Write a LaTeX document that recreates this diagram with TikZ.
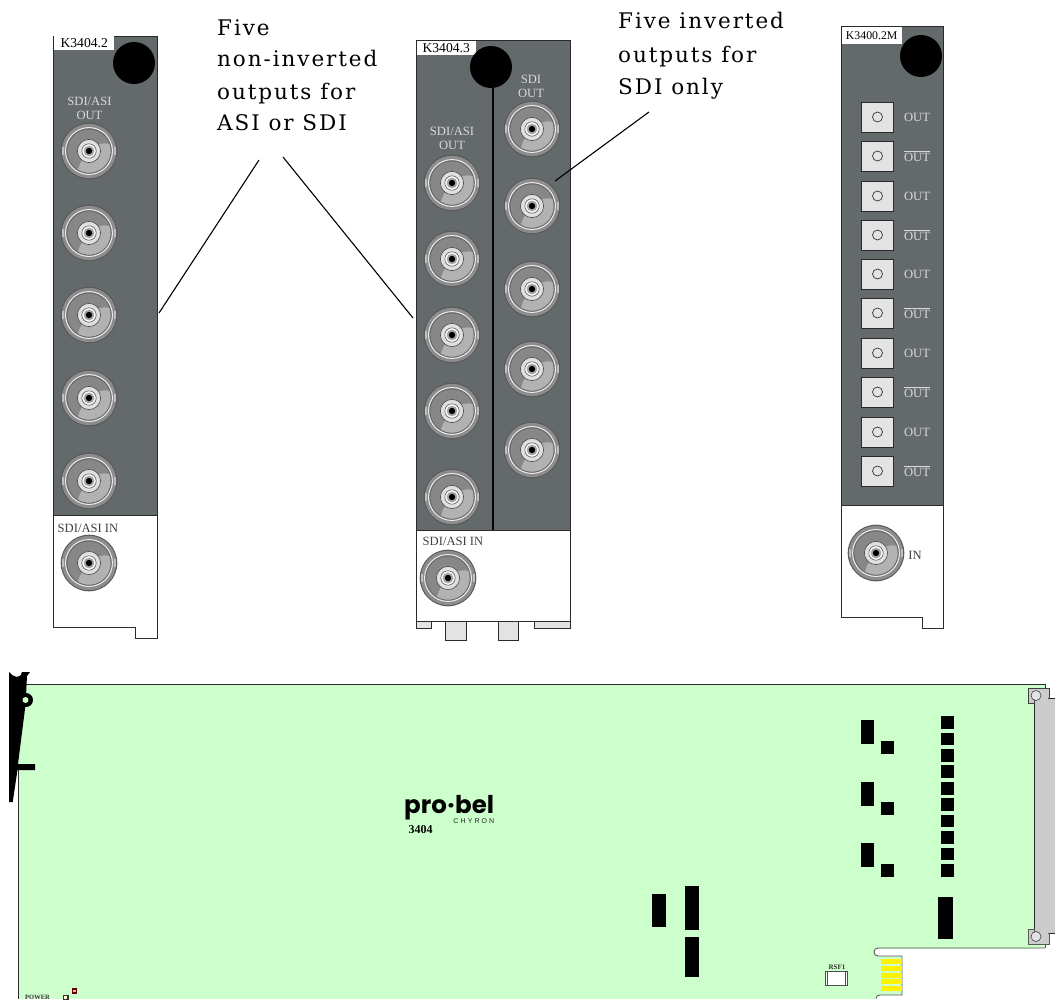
\documentclass[tikz,border=0pt]{standalone}
\usepackage{fontspec}
\setmainfont{Liberation Serif}
\newfontfamily\callfont[LetterSpace=9]{DejaVu Serif}
\newfontfamily\logofont{Poppins}
\newfontfamily\chyfont[LetterSpace=30]{Liberation Sans}
\definecolor{panelgrey}{HTML}{64696B}
\definecolor{boardgreen}{HTML}{CCFFCC}
\definecolor{edgedark}{HTML}{2A2A2A}
\definecolor{bracketgrey}{HTML}{CCCCCC}
\definecolor{tabgrey}{HTML}{E3E3E3}
\tikzset{
  panelface/.style={fill=panelgrey,draw=edgedark,line width=0.8pt},
  panelcard/.style={fill=white,draw=edgedark,line width=0.9pt},
  blackchip/.style={fill=black,draw=none},
  tabbox/.style={fill=tabgrey,draw=edgedark,line width=0.8pt},
  lab/.style={inner sep=0pt,font=\fontsize{12.6}{14}\selectfont,text=#1},
  lab/.default=black,
  tagbox/.style={fill=white,draw=none,inner sep=0pt,font=\fontsize{13.6}{14}\selectfont},
  call/.style={inner sep=0pt,anchor=base west,font=\callfont\fontsize{21.5}{24}\selectfont,text=black},
  leader/.style={draw=black,line width=1.1pt},
  bnc/.pic={
    \fill[color=black!65] (0,0) circle (28.3pt);
    \fill[color=black!45] (0,0) circle (27.2pt);
    \draw[color=white!92!black,line width=1.1pt] (0,0) circle (23.4pt);
    \fill[color=black!60] (0,0) circle (22.6pt);
    \fill[color=black!47] (0,0) circle (21.6pt);
    \fill[color=black!30] (-11,18.4) .. controls (-7,5) and (5,-11) .. (20.4,-7) arc (19:-121:21.6pt) -- cycle;
    \fill[color=white!75!black] (-27.4,-3.6) rectangle (-24.6,3.8);
    \fill[color=white!75!black] (24.6,-3.6) rectangle (27.4,3.8);
    \fill[color=white!88!black,draw=black!70,line width=0.6pt] (0,0) circle (11.6pt);
    \fill[color=white,draw=black!65,line width=0.6pt] (0,0) circle (7.2pt);
    \fill[color=black!35] (0,0) circle (5.4pt);
    \fill[color=black] (0,0) circle (3.2pt);
  },
  x=1pt,y=-1pt
}
\newcommand{\oline}{$\overline{\hbox{OUT}}$}
\begin{document}
\begin{tikzpicture}[x=1pt,y=-1pt]
\useasboundingbox (0,0) rectangle (1055,999);
\fill[white] (0,0) rectangle (1055,999);

% ---------- left panel
\draw[panelcard] (53,515) -- (53,627) -- (135,627) -- (135,638) -- (157,638) -- (157,515);
\draw[panelface] (53,36) rectangle (157,515);
\node[tagbox,minimum width=60pt,minimum height=14pt,anchor=north west] (tagA) at (54,36) {K3404.2};
\fill[black] (134,63) circle (21pt);
\foreach \yy in {151,233,315,398,481} \pic at (89,\yy) {bnc};
\node[lab=white!85!black,align=center] (sdiA) at (89.5,108.5) {SDI/ASI\\OUT};
\node[lab=black!75] (inA) at (88,528) {SDI/ASI IN};
\pic at (89,563) {bnc};

% ---------- middle panel
\draw[tabbox] (416,621) rectangle (431,628);
\draw[tabbox] (445,621) rectangle (466,640);
\draw[tabbox] (498,621) rectangle (518,640);
\draw[tabbox] (534,621) rectangle (570,628);
\draw[panelcard] (416,530) rectangle (570,621);
\draw[panelface] (416,40) rectangle (570,530);
\node[tagbox,minimum width=59pt,minimum height=14pt,anchor=north west] (tagB) at (416.5,40.5) {K3404.3};
\draw[black,line width=1.6pt] (493,70) -- (493,530);
\fill[black] (491,67) circle (21pt);
\foreach \yy in {183,259,335,411,497} \pic at (452,\yy) {bnc};
\foreach \yy in {129,206,289,369,450} \pic at (532,\yy) {bnc};
\node[lab=white!85!black,align=center] (sdiB) at (452,138) {SDI/ASI\\OUT};
\node[lab=white!85!black,align=center] (sdiC) at (531,86) {SDI\\OUT};
\node[lab=black!75] (inB) at (453,541) {SDI/ASI IN};
\pic at (448,578) {bnc};

% ---------- right panel
\draw[panelcard] (841,505) -- (841,617) -- (922,617) -- (922,628) -- (943,628) -- (943,505);
\draw[panelface] (841,26) rectangle (943,505);
\node[tagbox,minimum width=60pt,minimum height=17pt,anchor=north west,font=\fontsize{11.8}{14}\selectfont] (tagC) at (841.5,26.5) {K3400.2M};
\fill[black] (921,56) circle (21pt);
\foreach \yy/\txt [count=\i] in {117/OUT,156/\oline,196/OUT,235/\oline,274/OUT,313/\oline,353/OUT,392/\oline,432/OUT,471/\oline}{
  \draw[fill=tabgrey,draw=edgedark,line width=0.9pt] (861,\yy-15) rectangle (893.5,\yy+15);
  \draw[draw=black!80,line width=0.7pt] (877.5,\yy) circle (5pt);
  \node[lab=white!85!black] (out\i) at (917,\yy) {\txt};
}
\pic at (876,553) {bnc};
\node[lab=black!75] (inC) at (915,555) {IN};

% ---------- callouts
\node[call] (c1) at (217,35) {Five};
\node[call] (c2) at (217,66) {non-inverted};
\node[call] (c3) at (217,99) {outputs for};
\node[call] (c4) at (217,130) {ASI or SDI};
\node[call] (d1) at (618,28) {Five inverted};
\node[call] (d2) at (618,62) {outputs for};
\node[call] (d3) at (618,94) {SDI only};
\coordinate (l1a) at (259,160);
\coordinate (l1b) at (159,313);
\coordinate (l2a) at (283,157);
\coordinate (l2b) at (413,318);
\coordinate (l3a) at (649,112);
\coordinate (l3b) at (555,181);
\draw[leader] (l1a) -- (l1b);
\draw[leader] (l2a) -- (l2b);
\draw[leader] (l3a) -- (l3b);

% ---------- board
\fill[bracketgrey] (1034,698) rectangle (1055,933);
\draw[edgedark,line width=0.8pt] (1049,698) -- (1055,698);
\draw[edgedark,line width=0.8pt] (1049,933) -- (1055,933);
\fill[boardgreen] (18,684) rectangle (1034,999);
\fill[boardgreen] (1034,684) rectangle (1045,688);
\fill[boardgreen] (1034,944) rectangle (1045,948);
% white cut-out for the edge connector
\fill[white] (878,948.5) rectangle (1055,999);
\fill[boardgreen] (878,956) rectangle (902,995);
\fill[white] (878,948) arc (90:270:4pt) -- cycle;
\fill[white] (876,999) -- (876,998.5) .. controls (876,996) and (878,995) .. (880,995) -- (902,995) -- (902,999) -- cycle;
\draw[black!65,line width=0.9pt] (1045,948) -- (878,948) arc (90:270:4pt) -- (902,956) -- (902,995) -- (880,995) .. controls (878,995) and (876,996) .. (876,998.5);
\draw[edgedark,line width=0.8pt] (26,684) -- (1045,684) -- (1045,688);
\draw[edgedark,line width=0.9pt] (18,770) -- (18,999);
\draw[edgedark,line width=0.8pt] (1034,703) -- (1034,929);
\draw[black!65,line width=0.9pt] (1045,944) -- (1045,948);
% bracket lugs
\draw[fill=bracketgrey,draw=black!75,line width=0.8pt] (1028,703) -- (1028,688) -- (1049,688) -- (1049,698) -- (1034,698) -- (1034,703) -- cycle;
\fill[bracketgrey] (1034.5,697) rectangle (1048,704);
\draw[fill=bracketgrey,draw=black!65,line width=0.9pt] (1028,929) -- (1034,929) -- (1034,933) -- (1049,933) -- (1049,944) -- (1028,944) -- cycle;
\fill[bracketgrey] (1034.5,928) rectangle (1048,934);
\draw[fill=tabgrey,draw=black!75,line width=0.6pt] (1036,695.5) circle (5pt);
\draw[fill=tabgrey,draw=black!75,line width=0.6pt] (1036,936.5) circle (5pt);
% ejector
\fill[black] (9,672) .. controls (13,677) and (20,680) .. (22,672) -- (30,672) -- (27,676) -- (25.5,705)
  -- (18,764) -- (35,764) -- (35,770) -- (17.5,770) -- (12.7,802) -- (9,802) -- cycle;
\fill[black] (26,700) circle (7pt);
\fill[boardgreen] (25.5,700) circle (3pt);
% logo
\node[inner sep=0pt,anchor=base west,font=\logofont\bfseries\fontsize{24.5}{26}\selectfont] (logo) at (404,813) {pro{\kern0.5pt}·{\kern0.5pt}bel};
\node[inner sep=0pt,anchor=base east,font=\chyfont\fontsize{7}{7}\selectfont,text=black!85] (chy) at (494.5,823.5) {CHYRON};
\node[inner sep=0pt,font=\fontsize{12}{13}\selectfont\bfseries] (num) at (420.5,830) {3404};
% chips
\foreach \xa/\ya/\xb/\yb in {652/894/666/927,685/886/699/930,685/937/699/977,
  860.5/720/874/744,860.5/782/874/806,860.5/843/874/867,
  881/741/894/754,881/802/894/815,881/864/894/877,
  940.5/716/954/729,940.5/733/954/745,940.5/749/954/762,940.5/765/954/778,940.5/782/954/795,
  940.5/798/954/811,940.5/815/954/827,940.5/831/954/844,940.5/848/954/860,940.5/864/954/877,
  938/897/953/939}
  \fill[blackchip] (\xa,\ya) rectangle (\xb,\yb);
% gold fingers
\foreach \ya/\yb in {959/964,966/971,973/978,979/984,986/991}
  \fill[yellow] (881,\ya) rectangle (902,\yb);
% reset switch
\node[inner sep=0pt,font=\fontsize{7}{8}\selectfont\bfseries,text=black!80] (rsf) at (837,967) {RSF1};
\draw[fill=white,draw=black!70,line width=0.8pt] (825.5,971) rectangle (847,985);
\draw[draw=black!70,line width=0.8pt] (827.5,971) -- (827.5,985);
\draw[draw=black!70,line width=0.8pt] (845.5,971) -- (845.5,985);
% power
\node[inner sep=0pt,font=\fontsize{6.5}{7}\selectfont\bfseries,text=black!80] (pw) at (37.5,997.5) {POWER};
\draw[fill=white!80!yellow,draw=black!80,line width=1.4pt] (63.5,995.5) rectangle (68,999.5);
\draw[fill=white!70!red,draw=black!60!red,line width=1.6pt] (72.5,989) rectangle (76.5,993);
\end{tikzpicture}
\end{document}
